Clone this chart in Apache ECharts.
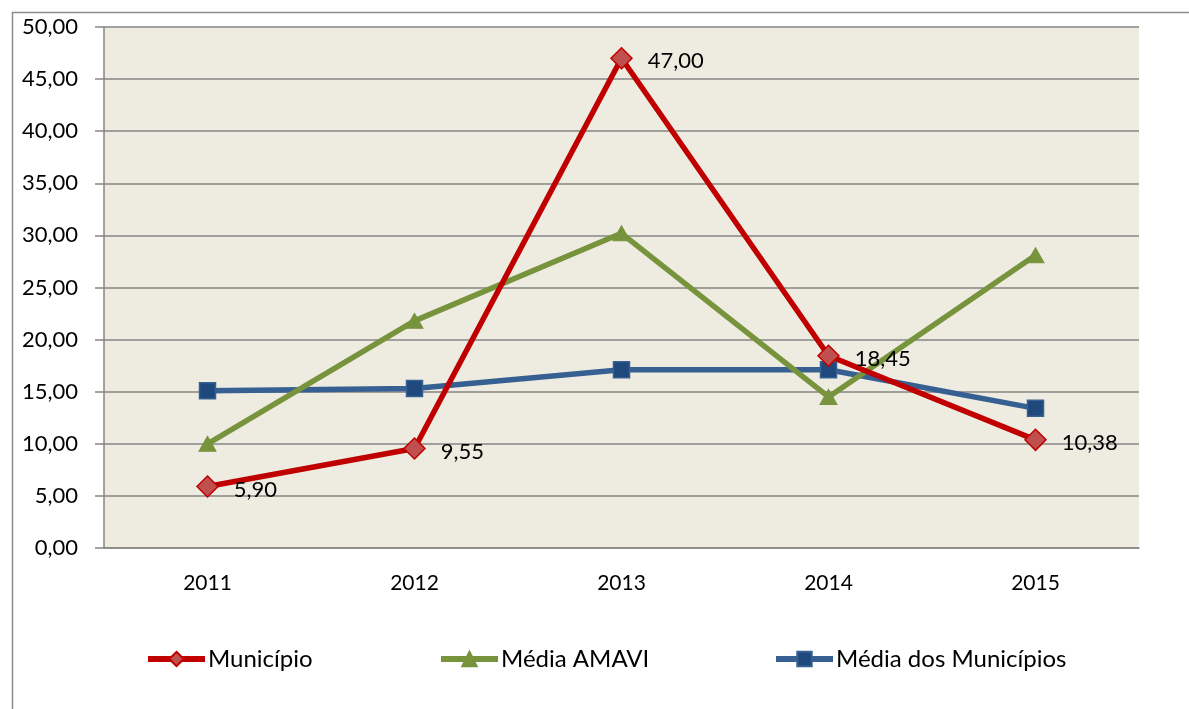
<!DOCTYPE html>
<html><head><meta charset="utf-8">
<script src="https://cdn.jsdelivr.net/npm/echarts@6/dist/echarts.min.js"></script>
<style>html,body{margin:0;padding:0;background:#fff}#c{width:1189px;height:709px}</style>
</head><body><div id="c"></div>
<script>
var categories = ['2011','2012','2013','2014','2015'];
var municipio = [5.90, 9.55, 47.00, 18.45, 10.38];
var mediaAmavi = [10.0, 21.8, 30.2, 14.5, 28.1];
var mediaMunicipios = [15.1, 15.3, 17.1, 17.1, 13.4];
var yTicks = {min: 0, max: 50, interval: 5};

var FONT = 'Lato, "Open Sans", sans-serif';
function fmt(v){ return Number(v).toFixed(2).replace('.', ','); }

var legendCommon = {itemWidth: 57, itemHeight: 18, itemGap: 0, top: 647, padding: 0,
  lineStyle: {width: 6},
  textStyle: {fontFamily: FONT, fontSize: 24, color: '#000', padding: [0,0,0,-2]}};

var chart = echarts.init(document.getElementById('c'));
chart.setOption({
  animation: false,
  backgroundColor: '#ffffff',
  textStyle: {fontFamily: FONT},
  graphic: [{
    type: 'rect', left: 10, top: 10, z: -10,
    shape: {width: 1200, height: 720},
    style: {fill: 'none', stroke: '#8c8c8c', lineWidth: 1.5}
  }],
  grid: {left: 104, right: 50, top: 27, bottom: 161, containLabel: false,
         show: true, backgroundColor: '#EEEBE0', borderWidth: 0},
  legend: [
    Object.assign({data: ['Município'], left: 145}, legendCommon),
    Object.assign({data: ['Média AMAVI'], left: 438}, legendCommon),
    Object.assign({data: ['Média dos Municípios'], left: 773}, legendCommon)
  ],
  xAxis: {
    type: 'category', data: categories, boundaryGap: true,
    axisLine: {lineStyle: {color: '#868686', width: 1.5}},
    axisTick: {show: false},
    axisLabel: {fontFamily: FONT, fontSize: 21, color: '#000', margin: 25}
  },
  yAxis: {
    type: 'value', min: yTicks.min, max: yTicks.max, interval: yTicks.interval,
    axisLine: {show: true, lineStyle: {color: '#868686', width: 1.5}},
    axisTick: {show: true, length: 9, lineStyle: {color: '#868686', width: 1.5}},
    splitLine: {lineStyle: {color: '#868686', width: 1.5}},
    axisLabel: {fontFamily: FONT, fontSize: 22, color: '#000', margin: 26, formatter: fmt}
  },
  series: [
    {name: 'Município', type: 'line', data: municipio, z: 4,
     symbol: 'diamond', symbolSize: [21, 21],
     lineStyle: {color: '#C00000', width: 5.5},
     itemStyle: {color: '#C0504D', borderColor: '#C00000', borderWidth: 1.5},
     label: {show: true, position: 'right', distance: 15, offset: [0, 3],
             fontFamily: FONT, fontSize: 22, color: '#000',
             formatter: function(p){ return fmt(p.value); }}},
    {name: 'Média AMAVI', type: 'line', data: mediaAmavi, z: 3,
     symbol: 'triangle', symbolSize: [17, 15],
     lineStyle: {color: '#77933C', width: 5.5},
     itemStyle: {color: '#77933C', borderColor: '#77933C', borderWidth: 1}},
    {name: 'Média dos Municípios', type: 'line', data: mediaMunicipios, z: 2,
     symbol: 'rect', symbolSize: [16, 16],
     lineStyle: {color: '#376092', width: 5.5},
     itemStyle: {color: '#1F497D', borderColor: '#376092', borderWidth: 1.5}}
  ]
});
</script></body></html>
